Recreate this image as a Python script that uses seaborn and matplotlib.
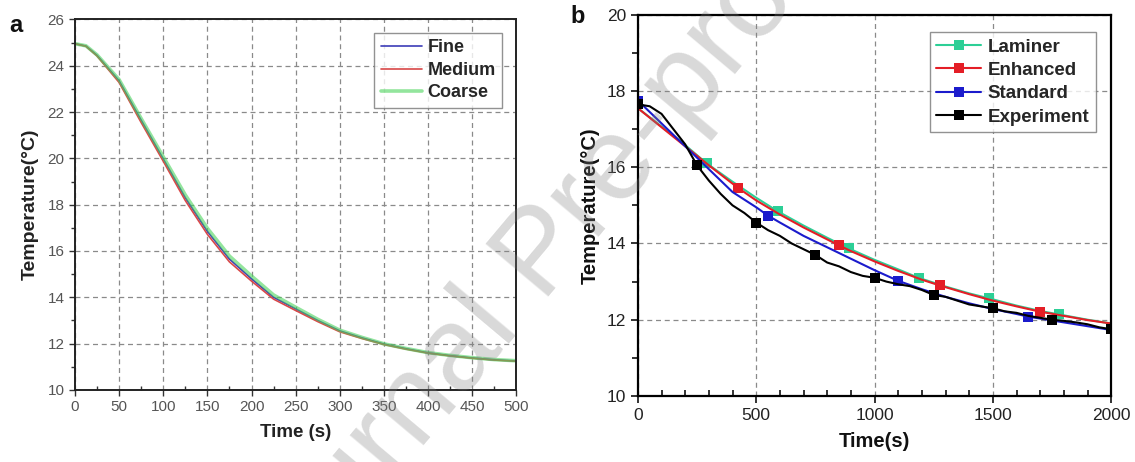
import numpy as np
import pandas as pd
import matplotlib
matplotlib.use("Agg")
import matplotlib.pyplot as plt
from matplotlib.ticker import MultipleLocator
import seaborn as sns

# ---------------- data: panel a ----------------
time_a = [0, 12.5, 25, 50, 75, 100, 125, 150, 175, 200, 225, 250, 275, 300, 325, 350,
          375, 400, 425, 450, 475, 500]
fine = [24.95, 24.85, 24.45, 23.35, 21.65, 19.98, 18.30, 16.85, 15.65, 14.80, 14.00,
        13.50, 13.00, 12.55, 12.25, 11.98, 11.78, 11.60, 11.48, 11.38, 11.30, 11.25]
medium = [24.95, 24.84, 24.42, 23.28, 21.55, 19.88, 18.18, 16.72, 15.53, 14.70, 13.92,
          13.43, 12.95, 12.51, 12.22, 11.96, 11.76, 11.59, 11.47, 11.37, 11.29, 11.24]
coarse = [24.95, 24.86, 24.47, 23.40, 21.72, 20.07, 18.42, 16.98, 15.78, 14.92, 14.10,
          13.57, 13.05, 12.58, 12.27, 11.99, 11.79, 11.61, 11.49, 11.39, 11.31, 11.26]

# ---------------- data: panel b ----------------
lam_t = [0, 100, 200, 291, 400, 500, 592, 700, 800, 891, 1000, 1100, 1186, 1300,
         1400, 1484, 1600, 1700, 1778, 1900, 2000]
lam_T = [17.55, 17.07, 16.58, 16.10, 15.62, 15.20, 14.84, 14.47, 14.15, 13.87, 13.57,
         13.32, 13.10, 12.87, 12.69, 12.56, 12.37, 12.23, 12.14, 12.00, 11.90]
lam_marks = [291, 592, 891, 1186, 1484, 1778]

enh_t = [0, 100, 200, 300, 425, 500, 600, 700, 850, 900, 1000, 1100, 1200, 1275,
         1400, 1500, 1600, 1700, 1800, 1900, 2000]
enh_T = [17.55, 17.05, 16.55, 16.05, 15.45, 15.13, 14.76, 14.42, 13.95, 13.80, 13.53,
         13.28, 13.05, 12.90, 12.67, 12.50, 12.35, 12.21, 12.10, 11.99, 11.90]
enh_marks = [425, 850, 1275, 1700]

std_t = [0, 100, 200, 250, 300, 400, 500, 550, 600, 700, 800, 900, 1000, 1100, 1200,
         1300, 1400, 1500, 1600, 1650, 1700, 1800, 1900, 2000]
std_T = [17.75, 17.15, 16.55, 16.25, 15.95, 15.35, 14.95, 14.73, 14.55, 14.20, 13.90,
         13.60, 13.30, 13.02, 12.80, 12.60, 12.43, 12.28, 12.15, 12.08, 12.03, 11.93,
         11.83, 11.73]
std_marks = [0, 550, 1100, 1650]

exp_t = [0, 50, 100, 150, 200, 250, 300, 350, 400, 450, 500, 550, 600, 650, 700, 750,
         800, 850, 900, 950, 1000, 1050, 1100, 1150, 1200, 1250, 1300, 1350, 1400, 1450,
         1500, 1550, 1600, 1650, 1700, 1750, 1800, 1850, 1900, 1950, 2000]
exp_T = [17.65, 17.60, 17.40, 17.00, 16.60, 16.05, 15.65, 15.30, 15.00, 14.80, 14.55,
         14.35, 14.20, 14.00, 13.85, 13.70, 13.50, 13.40, 13.25, 13.15, 13.10, 13.00,
         12.93, 12.88, 12.78, 12.65, 12.60, 12.50, 12.40, 12.35, 12.30, 12.22, 12.18,
         12.10, 12.05, 12.00, 11.97, 11.93, 11.88, 11.80, 11.75]
exp_marks = [0, 250, 500, 750, 1000, 1250, 1500, 1750, 2000]

# ---------------- style ----------------
sns.set_theme(style="ticks")
plt.rcParams["font.family"] = ["Liberation Sans", "DejaVu Sans"]

fig = plt.figure(figsize=(11.35, 4.62), dpi=100)
axA = fig.add_axes([0.066, 0.156, 0.389, 0.802])
axB = fig.add_axes([0.562, 0.143, 0.417, 0.825])

grid_kw = dict(color="#8a8a8a", linestyle=(0, (4, 3)), linewidth=0.9)

# ---------------- panel a ----------------
sns.lineplot(x=time_a, y=fine, ax=axA, color="#3c3cb8", label="Fine", linewidth=1.2)
sns.lineplot(x=time_a, y=medium, ax=axA, color="#d84848", label="Medium", linewidth=1.2)
sns.lineplot(x=time_a, y=coarse, ax=axA, color="#4cd45c", label="Coarse", linewidth=2.6,
             alpha=0.6)

axA.set_xlim(0, 500)
axA.set_ylim(10, 26)
axA.xaxis.set_major_locator(MultipleLocator(50))
axA.xaxis.set_minor_locator(MultipleLocator(25))
axA.yaxis.set_major_locator(MultipleLocator(2))
axA.yaxis.set_minor_locator(MultipleLocator(1))
axA.grid(True, which="major", **grid_kw)
axA.tick_params(axis="both", which="major", direction="out", length=4, width=1,
                labelsize=11, labelcolor="#555555", color="#333333")
axA.tick_params(axis="x", which="minor", direction="in", length=3, width=1, color="#333333")
axA.tick_params(axis="y", which="minor", direction="out", length=3, width=1, color="#333333")
for s in axA.spines.values():
    s.set_linewidth(1.4)
    s.set_color("#222222")
axA.set_xlabel("Time (s)", fontsize=13.5, fontweight="bold", color="#222222", labelpad=7)
axA.set_ylabel("Temperature(°C)", fontsize=14, fontweight="bold", color="#222222", labelpad=6)
legA = axA.legend(loc="upper right", frameon=True, fancybox=False, edgecolor="#777777",
                  prop={"weight": "bold", "size": 13}, handlelength=2.3,
                  borderpad=0.35, labelspacing=0.3, handletextpad=0.3,
                  borderaxespad=0, bbox_to_anchor=(0.968, 0.963))
legA.get_frame().set_linewidth(1.0)

# ---------------- panel b ----------------
series_b = [
    (lam_t, lam_T, lam_marks, "#2ccf96", "Laminer"),
    (enh_t, enh_T, enh_marks, "#e41e26", "Enhanced"),
    (std_t, std_T, std_marks, "#1b1bcc", "Standard"),
    (exp_t, exp_T, exp_marks, "#000000", "Experiment"),
]
for tt, TT, marks, col, lab in series_b:
    idx = [i for i, t in enumerate(tt) if t in marks]
    sns.lineplot(x=tt, y=TT, ax=axB, color=col, label=lab, linewidth=1.5,
                 marker="s", markevery=idx, markersize=6.5, markeredgewidth=0)

axB.set_xlim(0, 2000)
axB.set_ylim(10, 20)
axB.xaxis.set_major_locator(MultipleLocator(500))
axB.xaxis.set_minor_locator(MultipleLocator(100))
axB.yaxis.set_major_locator(MultipleLocator(2))
axB.yaxis.set_minor_locator(MultipleLocator(1))
axB.grid(True, which="major", **grid_kw)
axB.tick_params(axis="both", which="major", direction="out", length=5, width=1.2,
                labelsize=12.5, labelcolor="#222222", color="#111111")
axB.tick_params(axis="x", which="minor", direction="in", length=4, width=1.2, color="#111111")
axB.tick_params(axis="y", which="minor", direction="out", length=4, width=1.2, color="#111111")
for s in axB.spines.values():
    s.set_linewidth(1.6)
    s.set_color("#000000")
axB.set_xlabel("Time(s)", fontsize=14.5, fontweight="bold", color="#111111", labelpad=7)
axB.set_ylabel("Temperature(°C)", fontsize=14.5, fontweight="bold", color="#111111", labelpad=5)
legB = axB.legend(loc="upper right", frameon=True, fancybox=False, edgecolor="#777777",
                  prop={"weight": "bold", "size": 13.5}, handlelength=2.4,
                  borderpad=0.35, labelspacing=0.33, handletextpad=0.35,
                  borderaxespad=0, bbox_to_anchor=(0.968, 0.955))
legB.get_frame().set_linewidth(1.0)

# panel letters
fig.text(0.008, 0.93, "a", fontsize=17, fontweight="bold", color="#111111")
fig.text(0.503, 0.95, "b", fontsize=17, fontweight="bold", color="#111111")

# watermark
fig.text(0.478, 0.445, "Journal Pre-proof", fontsize=86, color="#808080", alpha=0.3,
         rotation=50, ha="center", va="center", zorder=10)

fig.savefig("out.png", dpi=100)
